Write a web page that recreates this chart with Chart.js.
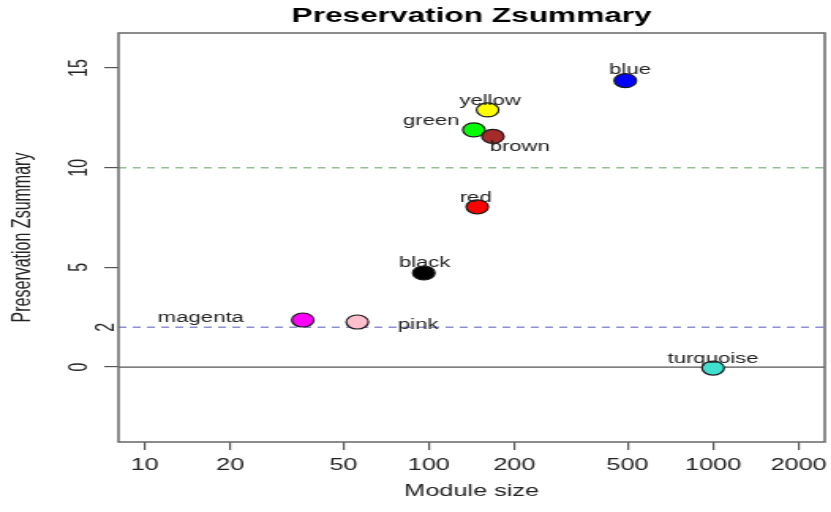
<!DOCTYPE html>
<html>
<head>
<meta charset="utf-8">
<title>Preservation Zsummary</title>
<script src="https://cdn.jsdelivr.net/npm/chart.js@4.4.0/dist/chart.umd.min.js"></script>
<style>
  html, body { margin: 0; padding: 0; background: #fff; overflow: hidden; }
  /* the reference is a horizontally stretched R plot: draw narrow, stretch in x */
  #wrap { width: 526px; height: 512px; transform: scaleX(1.58); transform-origin: 0 0; }
</style>
</head>
<body>
<div id="wrap"><canvas id="zChart" width="526" height="512"></canvas></div>
<script>
// ---- data ----
const modules = ["blue", "yellow", "green", "brown", "red", "black", "magenta", "pink", "turquoise"];
const moduleSize = [491, 161, 144, 168, 148, 96, 36, 56, 1000];
const zSummary = [14.37, 12.9, 11.9, 11.57, 8.04, 4.72, 2.36, 2.26, -0.05];
const xTicks = [10, 20, 50, 100, 200, 500, 1000, 2000];
const yTicks = [0, 5, 10, 15];
const yExtraTick = 2;
const thresholds = [10, 2, 0];

// ---- styles ----
const fillColors = {
  blue: "#0000ff", yellow: "#ffff00", green: "#00ff00", brown: "#a52a2a", red: "#ff0000",
  black: "#000000", magenta: "#ff00ff", pink: "#ffc0cb", turquoise: "#40e0d0"
};
// label offsets from the point centre, in canvas px
const labelOffsets = {
  blue: [3, -10], yellow: [1.5, -9], green: [-27, -9], brown: [17, 11], red: [-1, -9],
  black: [0.5, -10], magenta: [-64.5, -2], pink: [38.5, 3], turquoise: [0, -9]
};
const thresholdStyles = {
  10: { color: "#95c095", dash: [5, 4], width: 1.4 },
  2: { color: "#8e8ed2", dash: [5, 4], width: 1.4 },
  0: { color: "#555555", dash: [], width: 1.2 }
};

Chart.defaults.font.family = "'Liberation Sans', Arial, sans-serif";

// horizontal reference lines + plot frame
const refLines = {
  id: "refLines",
  beforeDatasetsDraw(chart) {
    const { ctx, chartArea: a, scales: { y } } = chart;
    ctx.save();
    for (const t of thresholds) {
      const s = thresholdStyles[t];
      const py = y.getPixelForValue(t);
      ctx.beginPath();
      ctx.setLineDash(s.dash);
      ctx.strokeStyle = s.color;
      ctx.lineWidth = s.width;
      ctx.moveTo(a.left, py);
      ctx.lineTo(a.right, py);
      ctx.stroke();
    }
    ctx.setLineDash([]);
    ctx.strokeStyle = "#666";
    ctx.lineWidth = 1.5;
    ctx.strokeRect(a.left, a.top, a.right - a.left, a.bottom - a.top);

    // the extra "2" tick label, set closer to the axis
    ctx.translate(a.left - 7, y.getPixelForValue(yExtraTick));
    ctx.rotate(-Math.PI / 2);
    ctx.font = "16px 'Liberation Sans', Arial, sans-serif";
    ctx.fillStyle = "#222";
    ctx.textAlign = "center";
    ctx.textBaseline = "middle";
    ctx.fillText(String(yExtraTick), 0, 0);
    ctx.restore();
  }
};

// module names next to their points
const pointLabels = {
  id: "pointLabels",
  afterDatasetsDraw(chart) {
    const { ctx } = chart;
    const meta = chart.getDatasetMeta(0);
    ctx.save();
    ctx.font = "14px 'Liberation Sans', Arial, sans-serif";
    ctx.fillStyle = "#222";
    ctx.textAlign = "center";
    ctx.textBaseline = "middle";
    meta.data.forEach((pt, i) => {
      const [dx, dy] = labelOffsets[modules[i]];
      ctx.fillText(modules[i], pt.x + dx, pt.y + dy);
    });
    ctx.restore();
  }
};

new Chart(document.getElementById("zChart"), {
  type: "scatter",
  data: {
    datasets: [{
      data: modules.map((m, i) => ({ x: moduleSize[i], y: zSummary[i] })),
      backgroundColor: modules.map(m => fillColors[m]),
      borderColor: "#1a1a1a",
      borderWidth: 1.2,
      pointRadius: 7,
      pointHoverRadius: 7
    }]
  },
  options: {
    responsive: false,
    animation: false,
    events: [],
    layout: { autoPadding: false, padding: { left: 0, right: 4, top: 0, bottom: 0 } },
    plugins: {
      legend: { display: false },
      tooltip: { enabled: false },
      title: {
        display: true,
        text: "Preservation Zsummary",
        fullSize: false,
        color: "#000",
        font: { size: 20, weight: "bold" },
        padding: { top: 4, bottom: 5 }
      }
    },
    scales: {
      x: {
        type: "logarithmic",
        min: 8.0912,
        max: 2472,
        afterBuildTicks: s => { s.ticks = xTicks.map(v => ({ value: v })); },
        afterFit: s => { s.height = 70; s.paddingLeft = 0; s.paddingRight = 0; },
        border: { display: false },
        grid: { drawOnChartArea: false, drawTicks: true, tickLength: 8, color: "#555", lineWidth: 1.2 },
        ticks: {
          callback: v => String(v),
          color: "#222",
          font: { size: 16 },
          padding: 6.4,
          maxRotation: 0,
          autoSkip: false
        },
        title: {
          display: true,
          text: "Module size",
          color: "#222",
          font: { size: 16 },
          padding: { top: 0, bottom: 10.4 }
        }
      },
      y: {
        min: -3.76,
        max: 16.76,
        afterBuildTicks: s => { s.ticks = yTicks.map(v => ({ value: v })); },
        afterFit: s => { s.width = 75; s.paddingTop = 0; s.paddingBottom = 0; },
        border: { display: false },
        grid: { drawOnChartArea: false, drawTicks: true, tickLength: 9, color: "#555", lineWidth: 1.2 },
        ticks: {
          minRotation: 90,
          maxRotation: 90,
          crossAlign: "center",
          padding: 7,
          color: "#222",
          font: { size: 16 },
          autoSkip: false
        },
        title: {
          display: true,
          text: "Preservation Zsummary",
          color: "#222",
          font: { size: 16 },
          padding: { top: 5, bottom: 0 }
        }
      }
    }
  },
  plugins: [refLines, pointLabels]
});
</script>
</body>
</html>
